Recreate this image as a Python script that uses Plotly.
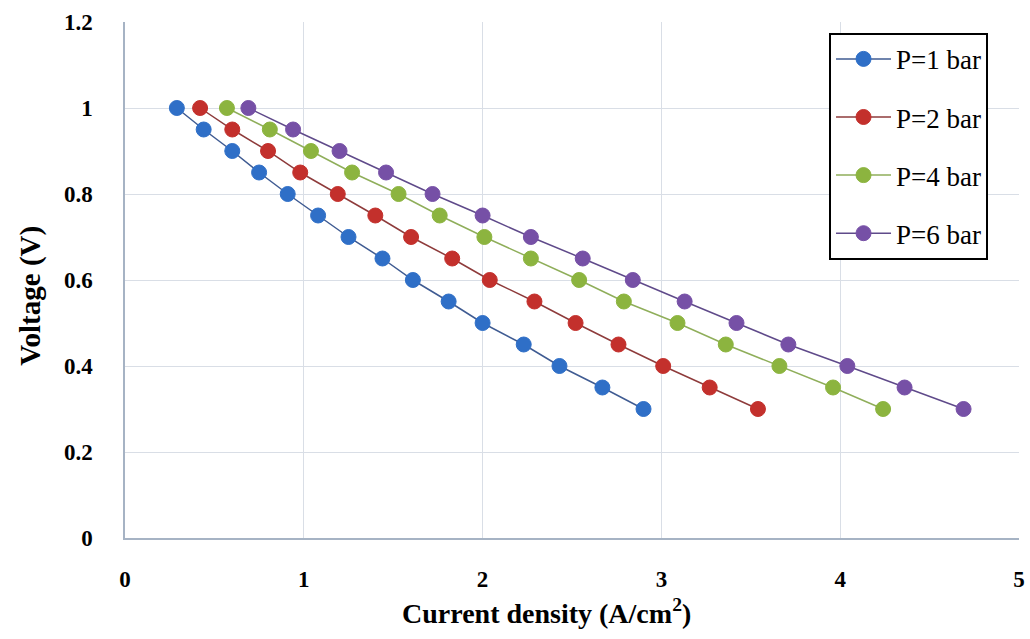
import plotly.graph_objects as go

# Polarization curves at four operating pressures
voltage = [1.0, 0.95, 0.9, 0.85, 0.8, 0.75, 0.7, 0.65, 0.6, 0.55, 0.5, 0.45, 0.4, 0.35, 0.3]

current_p1 = [0.29, 0.44, 0.60, 0.75, 0.91, 1.08, 1.25, 1.44, 1.61, 1.81, 2.00, 2.23, 2.43, 2.67, 2.90]
current_p2 = [0.42, 0.60, 0.80, 0.98, 1.19, 1.40, 1.60, 1.83, 2.04, 2.29, 2.52, 2.76, 3.01, 3.27, 3.54]
current_p4 = [0.57, 0.81, 1.04, 1.27, 1.53, 1.76, 2.01, 2.27, 2.54, 2.79, 3.09, 3.36, 3.66, 3.96, 4.24]
current_p6 = [0.69, 0.94, 1.20, 1.46, 1.72, 2.00, 2.27, 2.56, 2.84, 3.13, 3.42, 3.71, 4.04, 4.36, 4.69]

series_names = ["P=1 bar", "P=2 bar", "P=4 bar", "P=6 bar"]
series_x = [current_p1, current_p2, current_p4, current_p6]
marker_colors = ["#2f6fc7", "#c3302c", "#8cb43f", "#7650a6"]
line_colors = ["#3f5b92", "#8e3b3b", "#8fae5a", "#5f4a8a"]

x_ticks = [0, 1, 2, 3, 4, 5]
y_ticks = [0, 0.2, 0.4, 0.6, 0.8, 1, 1.2]
y_tick_text = ["0", "0.2", "0.4", "0.6", "0.8", "1", "1.2"]

x_title = "Current density (A/cm<sup>2</sup>)"
y_title = "Voltage (V)"

serif = "'Liberation Serif', 'DejaVu Serif', 'Noto Serif', serif"

fig = go.Figure()
for i, (name, xs) in enumerate(zip(series_names, series_x)):
    fig.add_trace(go.Scatter(
        x=xs, y=voltage, name=name, mode="lines+markers",
        legendgroup=f"g{i}",
        line=dict(color=line_colors[i], width=1.5),
        marker=dict(color=marker_colors[i], size=15,
                    line=dict(color=marker_colors[i], width=1)),
    ))

grid = "#d9dee6"
fig.update_layout(
    template="none",
    width=1030, height=639,
    margin=dict(l=125, r=11, t=22, b=101),
    paper_bgcolor="white", plot_bgcolor="white",
    font=dict(family=serif, color="black"),
    showlegend=True,
    legend=dict(
        x=0.7875, y=0.979, xanchor="left", yanchor="top",
        bgcolor="white", bordercolor="black", borderwidth=2,
        font=dict(family=serif, size=27, color="black"),
        tracegroupgap=20, itemwidth=55,
    ),
    xaxis=dict(
        range=[0, 5], tickvals=x_ticks, showgrid=True, gridcolor=grid, gridwidth=1,
        showline=True, linecolor="#a6b3c4", linewidth=1.5, zeroline=False,
        ticks="", ticklabelstandoff=20,
        tickfont=dict(family=serif, size=23, color="black", weight="bold"),
    ),
    yaxis=dict(
        range=[0, 1.2], tickvals=y_ticks, ticktext=y_tick_text,
        showgrid=True, gridcolor=grid, gridwidth=1,
        showline=True, linecolor="#a6b3c4", linewidth=1.5, zeroline=False,
        ticks="", ticklabelstandoff=26,
        tickfont=dict(family=serif, size=23, color="black", weight="bold"),
    ),
)

# Axis titles placed as paper-anchored annotations
fig.add_annotation(
    text=x_title, xref="paper", yref="paper", x=0.472, y=-0.142,
    xanchor="center", yanchor="middle", showarrow=False,
    font=dict(family=serif, size=28, color="black", weight="bold"),
)
fig.add_annotation(
    text=y_title, xref="paper", yref="paper", x=-0.106, y=0.47,
    xanchor="center", yanchor="middle", showarrow=False, textangle=-90,
    font=dict(family=serif, size=29, color="black", weight="bold"),
)

fig.write_html("out.html")
